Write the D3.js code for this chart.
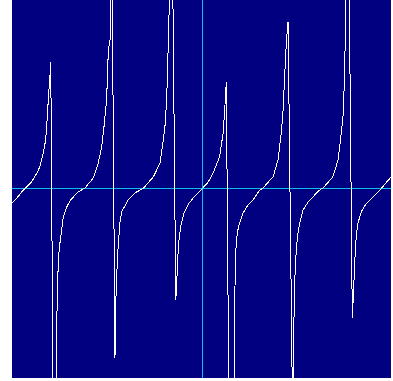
<!DOCTYPE html>
<html>
<head>
<meta charset="utf-8">
<script src="https://cdn.jsdelivr.net/npm/d3@7"></script>
<style>
  html, body { margin: 0; padding: 0; background: #ffffff; }
  svg { display: block; }
</style>
</head>
<body>
<svg id="chart" width="393" height="381"></svg>
<script>
// Plotted samples of the periodic curve (x, y in graph units)
const xValues = [
  -10.00, -9.75, -9.41, -8.96, -8.70, -8.53, -8.35, -8.23, -8.17, -8.09, -8.00, -7.96,
  -7.82, -7.65, -7.63, -7.56, -7.47, -7.38, -7.30, -7.12, -6.95, -6.59, -6.16,
  -5.72, -5.46, -5.28, -5.16, -5.02, -4.93, -4.84, -4.76,
  -4.58, -4.54, -4.47, -4.41, -4.32, -4.23, -3.89, -3.53, -3.09,
  -2.56, -2.21, -2.04, -1.95, -1.86, -1.81, -1.77, -1.58,
  -1.38, -1.33, -1.29, -1.21, -1.11, -0.95, -0.68, -0.37, 0.00,
  0.33, 0.58, 0.93, 1.11, 1.19, 1.28,
  1.43, 1.67, 1.69, 1.75, 1.81, 1.89, 1.98, 2.16, 2.42, 2.68, 3.04, 3.21,
  3.74, 4.00, 4.17, 4.26, 4.35, 4.44, 4.53,
  4.77, 4.81, 4.83, 4.89, 4.96, 5.05, 5.14, 5.32, 5.58, 5.93, 6.19, 6.37,
  6.89, 7.16, 7.33, 7.42, 7.51, 7.68,
  7.91, 7.97, 8.04, 8.12, 8.21, 8.38, 8.65, 8.93, 9.19, 9.46, 9.81, 10.00
];
const yValues = [
  -0.79, -0.54, -0.11, 0.33, 0.77, 1.12, 1.84, 2.53, 3.32, 4.63, 5.95, 6.63,
  -13.26, -13.26, -6.42, -3.68, -2.84, -2.16, -1.53, -1.00, -0.68, -0.26, 0.00,
  0.53, 1.32, 2.17, 3.21, 4.63, 7.26, 7.79, 15.16,
  -8.95, -6.05, -4.21, -3.00, -1.84, -1.26, -0.63, -0.26, -0.02,
  0.59, 1.30, 2.53, 3.23, 4.63, 6.38, 7.79, 15.16,
  -5.89, -5.11, -3.89, -2.74, -1.95, -1.32, -0.79, -0.42, -0.05,
  0.32, 0.77, 1.65, 2.89, 4.02, 5.59,
  -13.26, -13.26, -9.42, -4.05, -2.74, -2.21, -1.84, -1.32, -0.89, -0.63, -0.11, 0.00,
  0.59, 1.47, 2.89, 3.95, 5.86, 7.70, 8.75,
  -12.21, -12.21, -7.32, -4.68, -3.26, -2.37, -1.84, -1.16, -0.74, -0.37, -0.11, 0.00,
  0.59, 1.47, 2.89, 3.75, 6.04, 17.79,
  -6.84, -5.63, -3.89, -2.47, -1.84, -1.26, -0.81, -0.54, -0.28, 0.00, 0.42, 0.63
];

// Graph window limits
const xDomain = [-10, 10];
const yDomain = [-10, 10];

const plot = { left: 12, top: 0, right: 391, bottom: 378 };

const svg = d3.select("#chart");

const x = d3.scaleLinear().domain(xDomain).range([12, 392]);
const y = d3.scaleLinear().domain(yDomain).range([378, -2]);

// Plot background
svg.append("rect")
  .attr("x", plot.left)
  .attr("y", plot.top)
  .attr("width", plot.right - plot.left)
  .attr("height", plot.bottom - plot.top)
  .attr("fill", "#000080");

svg.append("clipPath")
  .attr("id", "plot-clip")
  .append("rect")
  .attr("x", plot.left)
  .attr("y", plot.top)
  .attr("width", plot.right - plot.left)
  .attr("height", plot.bottom - plot.top);

const g = svg.append("g").attr("clip-path", "url(#plot-clip)");

// Coordinate axes through the origin
g.append("line")
  .attr("x1", plot.left).attr("x2", plot.right)
  .attr("y1", Math.round(y(0)) + 0.5).attr("y2", Math.round(y(0)) + 0.5)
  .attr("stroke", "#12bde6")
  .attr("stroke-width", 1);

g.append("line")
  .attr("x1", Math.round(x(0)) + 0.5).attr("x2", Math.round(x(0)) + 0.5)
  .attr("y1", plot.top).attr("y2", plot.bottom)
  .attr("stroke", "#12bde6")
  .attr("stroke-width", 1);

// The curve itself
const points = xValues.map((v, i) => [v, yValues[i]]);

const line = d3.line()
  .x(d => x(d[0]))
  .y(d => y(d[1]));

g.append("path")
  .datum(points)
  .attr("d", line)
  .attr("fill", "none")
  .attr("stroke", "#ffffff")
  .attr("stroke-width", 1)
  .attr("shape-rendering", "crispEdges");
</script>
</body>
</html>
